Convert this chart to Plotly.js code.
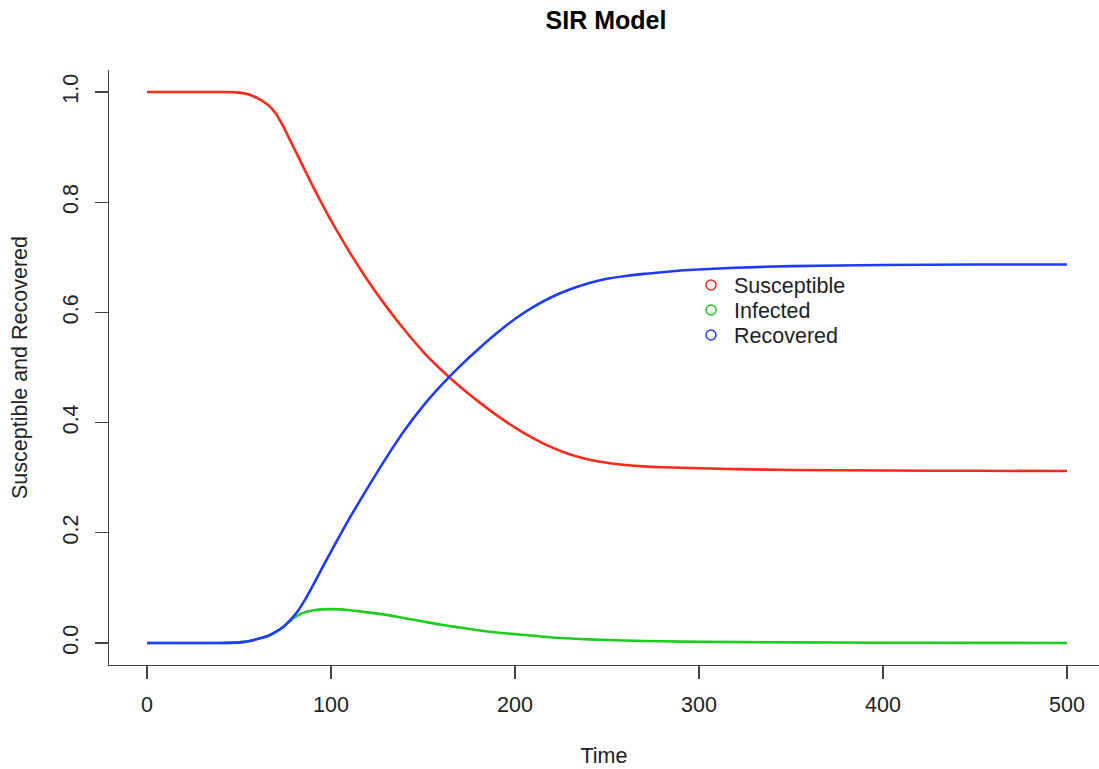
<!DOCTYPE html>
<html>
<head>
<meta charset="utf-8">
<script src="https://cdn.plot.ly/plotly-3.0.1.min.js"></script>
<style>html,body{margin:0;padding:0;background:#fff;}#chart{width:1099px;height:769px;}</style>
</head>
<body>
<div id="chart"></div>
<script>
// Susceptible
var sTime = [0, 20, 40, 50, 55, 61, 66, 70, 74, 78, 82, 86, 90, 95, 100, 105, 110, 120, 130, 140, 150, 160, 170, 180, 190, 200, 210, 220, 230, 240, 250, 260, 270, 280, 290, 300, 320, 350, 400, 450, 500];
var sVal  = [1.0, 1.0, 1.0, 0.999, 0.996, 0.987, 0.976, 0.961, 0.938, 0.911, 0.884, 0.857, 0.830, 0.798, 0.767, 0.738, 0.710, 0.658, 0.611, 0.568, 0.529, 0.4955, 0.4655, 0.4385, 0.4135, 0.391, 0.3715, 0.355, 0.342, 0.333, 0.327, 0.323, 0.3205, 0.319, 0.318, 0.317, 0.3155, 0.314, 0.313, 0.3125, 0.312];
// Infected
var iTime = [0, 20, 40, 50, 55, 61, 66, 70, 74, 78, 82, 86, 90, 95, 100, 105, 110, 120, 130, 140, 150, 160, 170, 180, 190, 200, 210, 220, 230, 240, 260, 280, 300, 350, 400, 450, 500];
var iVal  = [0, 0, 0, 0.001, 0.003, 0.008, 0.013, 0.020, 0.029, 0.041, 0.050, 0.056, 0.059, 0.061, 0.0615, 0.061, 0.0595, 0.0555, 0.051, 0.045, 0.039, 0.033, 0.028, 0.023, 0.019, 0.016, 0.013, 0.010, 0.008, 0.0065, 0.0045, 0.003, 0.0022, 0.001, 0.0005, 0.0002, 0];
// Recovered
var rTime = [0, 20, 40, 50, 55, 61, 66, 70, 74, 78, 82, 86, 90, 95, 100, 105, 110, 120, 130, 140, 150, 160, 170, 180, 190, 200, 210, 220, 230, 240, 250, 260, 270, 280, 290, 300, 320, 350, 400, 450, 500];
var rVal  = [0, 0, 0, 0.001, 0.003, 0.008, 0.013, 0.020, 0.029, 0.042, 0.058, 0.079, 0.103, 0.135, 0.166, 0.196, 0.226, 0.282, 0.336, 0.386, 0.430, 0.468, 0.502, 0.533, 0.562, 0.588, 0.610, 0.628, 0.642, 0.653, 0.661, 0.666, 0.670, 0.673, 0.676, 0.678, 0.681, 0.684, 0.686, 0.687, 0.687];

var seriesNames = ['Susceptible', 'Infected', 'Recovered'];
var seriesColors = ['#ff2a1a', '#1ecb1e', '#1f3bff'];
var yTicks = [0, 0.2, 0.4, 0.6, 0.8, 1.0];
var xTicks = [0, 100, 200, 300, 400, 500];

var FONTFAM = 'Liberation Sans, Arial, Helvetica, sans-serif';
var txtFont = {family: FONTFAM, size: 21.5, color: '#222'};

function lineTrace(x, y, c) {
  return {x: x, y: y, type: 'scatter', mode: 'lines', showlegend: false,
          line: {color: c, width: 2.6, shape: 'spline', smoothing: 0.7}, hoverinfo: 'skip'};
}
function legTrace(name, c, leg) {
  return {x: [null], y: [null], type: 'scatter', mode: 'markers', name: name, legend: leg,
          marker: {symbol: 'circle-open', size: 10, color: c, line: {width: 1.5, color: c}}};
}

var legendIds = ['legend', 'legend2', 'legend3'];
var legendRowsPx = [285, 310, 335];

var data = [
  lineTrace(sTime, sVal, seriesColors[0]),
  lineTrace(iTime, iVal, seriesColors[1]),
  lineTrace(rTime, rVal, seriesColors[2])
];
for (var k = 0; k < 3; k++) data.push(legTrace(seriesNames[k], seriesColors[k], legendIds[k]));

var layout = {
  width: 1099, height: 769,
  margin: {l: 109, r: 0, t: 70, b: 104, pad: 0},
  paper_bgcolor: '#fff', plot_bgcolor: '#fff',
  font: txtFont,
  title: {text: '<b>SIR Model</b>', font: {family: FONTFAM, size: 25, color: '#000'},
          x: 606 / 1099, xref: 'container', xanchor: 'center', y: 1 - 20/769, yref: 'container', yanchor: 'middle'},
  xaxis: {
    range: [-20.65, 517.4], showgrid: false, zeroline: false,
    showline: true, linecolor: '#444', linewidth: 1.3,
    ticks: 'outside', ticklen: 13, tickwidth: 1.3, tickcolor: '#444',
    tickmode: 'array', tickvals: xTicks, ticktext: xTicks.map(String),
    tickfont: txtFont, ticklabelstandoff: 7,
    title: {text: 'Time', font: txtFont, standoff: 32}
  },
  yaxis: {
    range: [-0.04, 1.04], showgrid: false, zeroline: false,
    showline: true, linecolor: '#444', linewidth: 1.3,
    ticks: 'outside', ticklen: 13, tickwidth: 1.3, tickcolor: '#444',
    tickmode: 'array', tickvals: yTicks, ticktext: yTicks.map(function(v){return v.toFixed(1);}),
    tickangle: -90, tickfont: txtFont, ticklabelstandoff: 8,
    title: {text: 'Susceptible and Recovered', font: txtFont, standoff: 25}
  },
  showlegend: true
};
for (var j = 0; j < 3; j++) {
  layout[legendIds[j]] = {
    x: (688 - 109) / 990, xanchor: 'left',
    y: (665 - legendRowsPx[j]) / 595, yanchor: 'middle',
    bgcolor: 'rgba(0,0,0,0)', borderwidth: 0, font: txtFont, itemwidth: 36
  };
}

Plotly.newPlot('chart', data, layout, {displayModeBar: false, staticPlot: true});
</script>
</body>
</html>
